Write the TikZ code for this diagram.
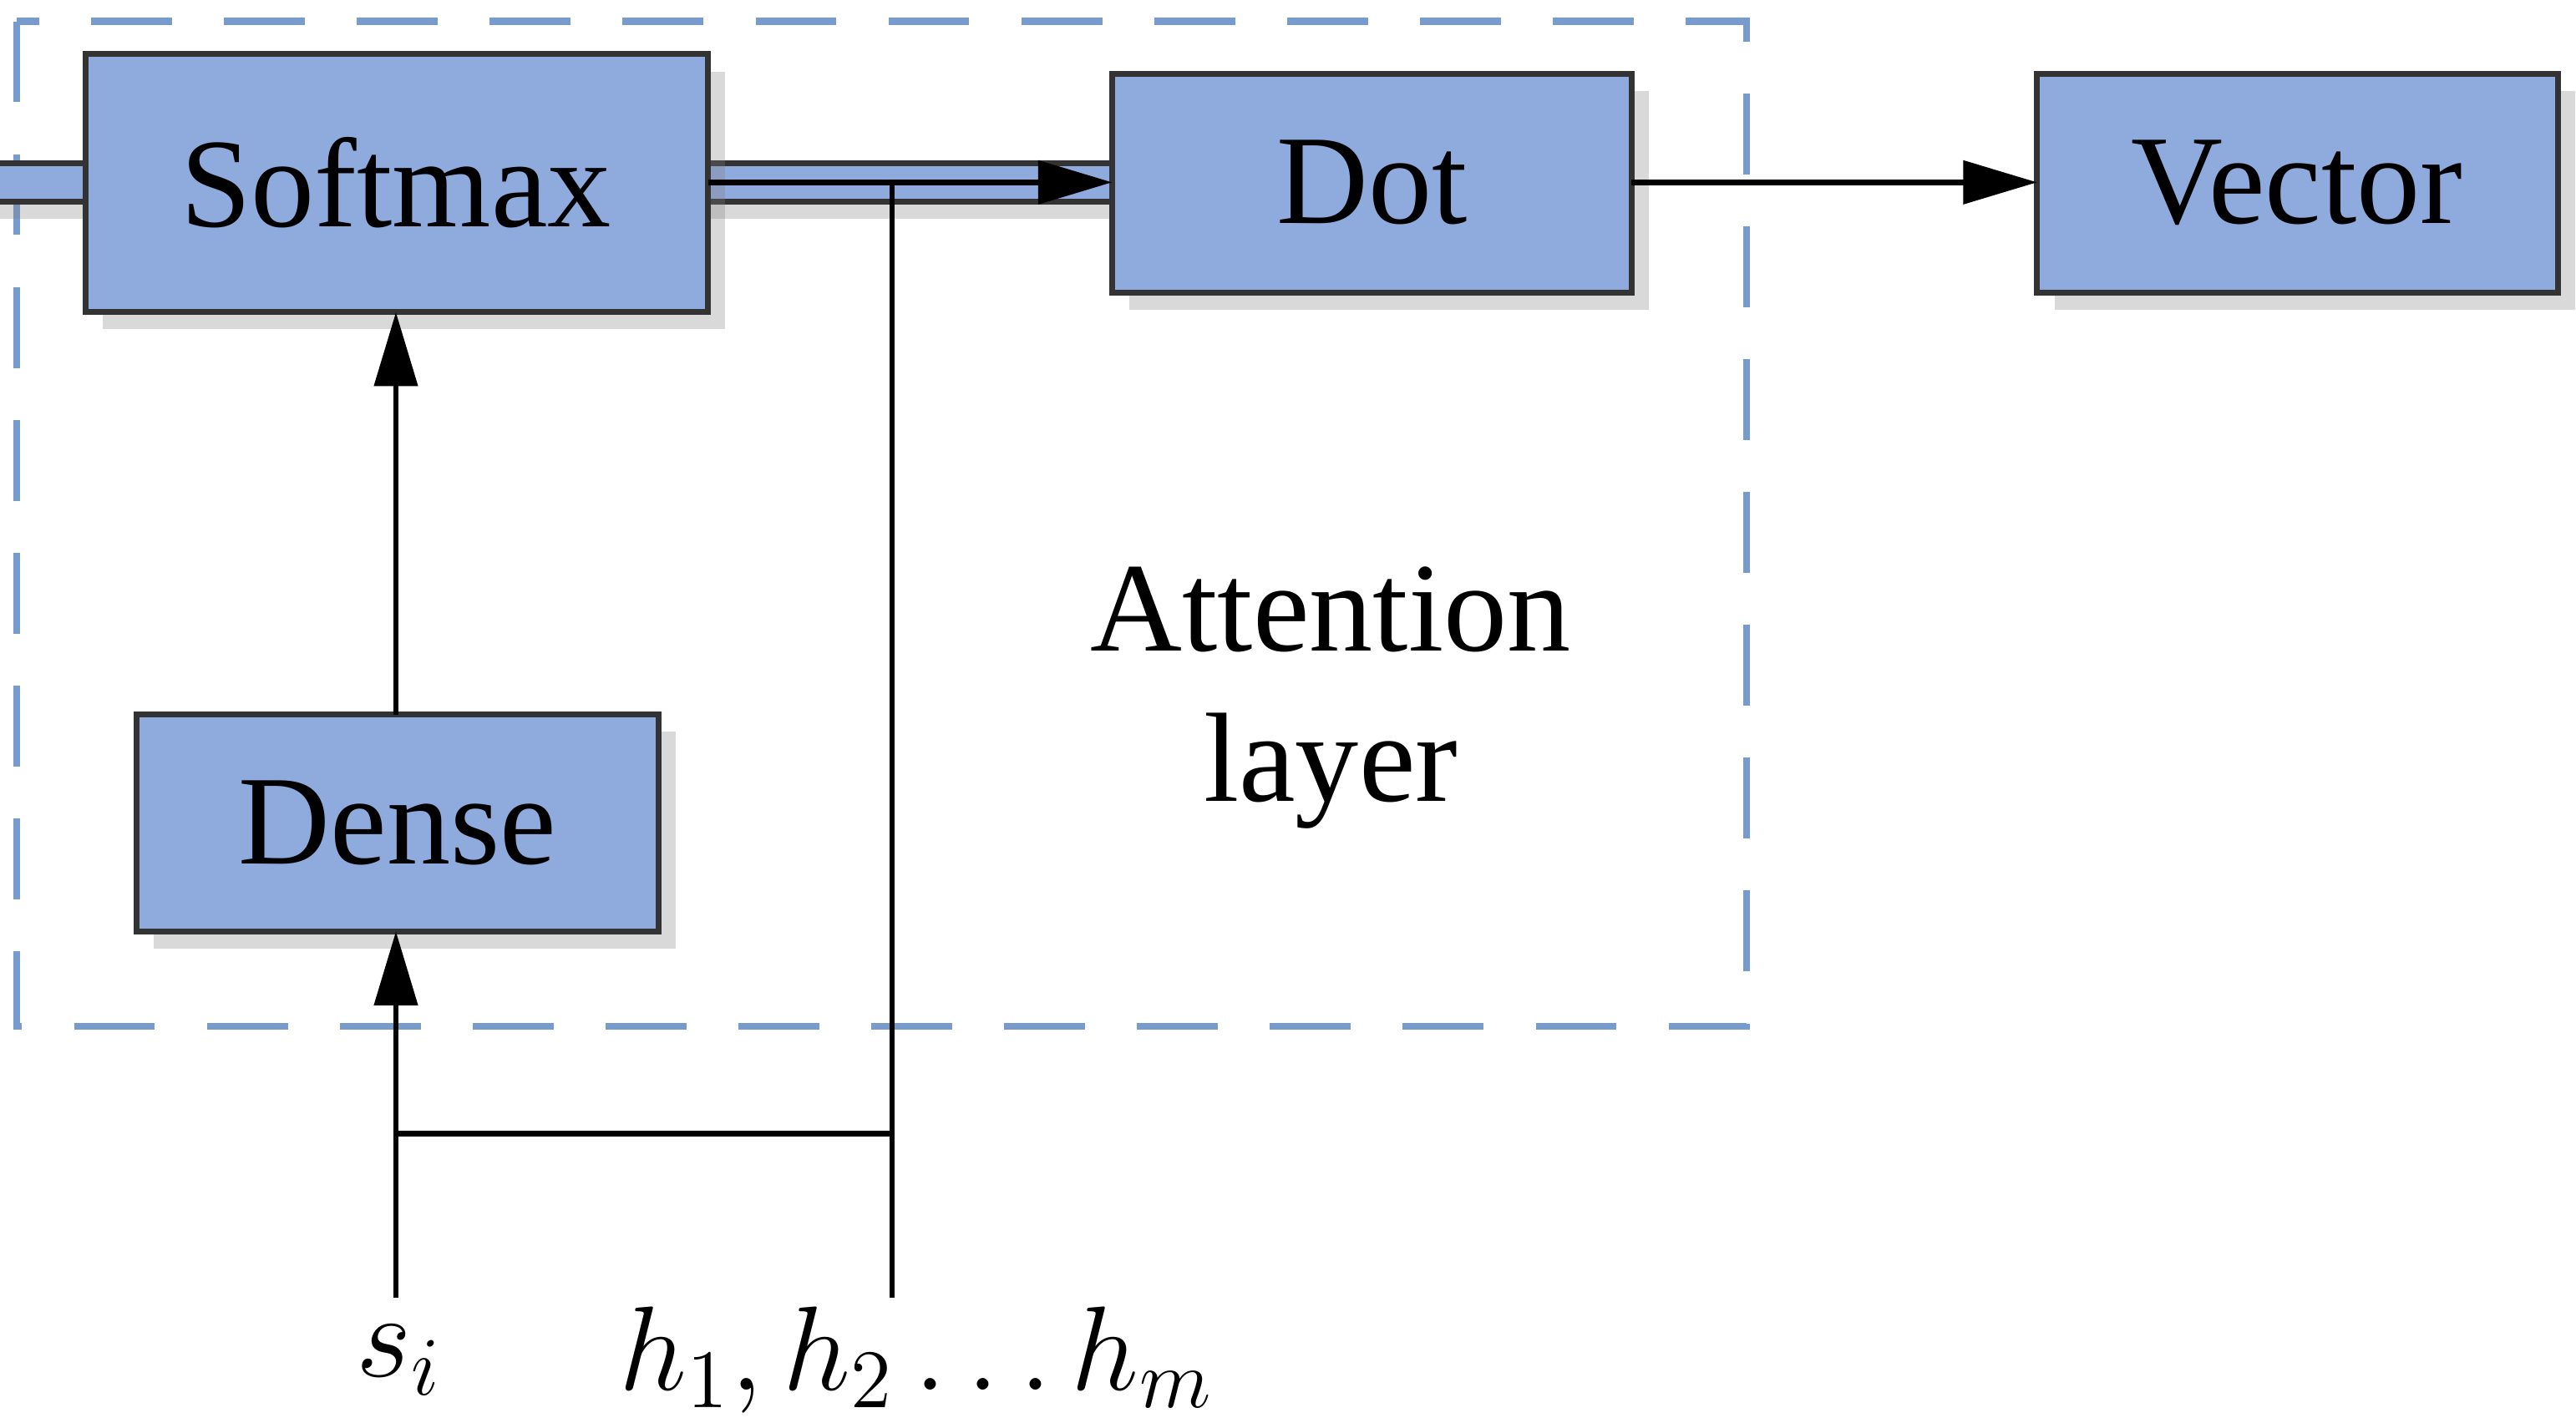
\documentclass[tikz,border=0pt]{standalone}
\usepackage{fontspec}
\setmainfont{Liberation Serif}
\usetikzlibrary{arrows.meta,shadows}
\definecolor{boxfill}{RGB}{143,170,220}
\definecolor{dashc}{RGB}{120,155,205}
\begin{document}
\begin{tikzpicture}[x=0.01cm,y=-0.01cm,
  blk/.style={draw=black!80,line width=1pt,fill=boxfill,drop shadow={shadow xshift=3pt,shadow yshift=-3pt,opacity=0.3},font=\fontsize{22}{26}\selectfont},
  ln/.style={line width=1pt},
  arr/.style={ln,-{Triangle[length=0.45cm,width=0.26cm]}}]
\useasboundingbox (0,0) rectangle (1568,866);
\draw[dashc,line width=1.2pt,dash pattern=on 14pt off 9pt] (10,13) rectangle (1063,625);
\node[blk,minimum width=379\pgflinewidth] (soft) at (241,111) {};
\path[blk] (52,33) rectangle (431,190);
\path[blk] (677,45) rectangle (993,178);
\path[blk] (1240,45) rectangle (1557,178);
\path[blk] (83,435) rectangle (401,567);
\node[font=\fontsize{22}{26}\selectfont] (softmax) at (241,111) {Softmax};
\node[font=\fontsize{22}{26}\selectfont] (dot) at (835,111) {Dot};
\node[font=\fontsize{22}{26}\selectfont] (vector) at (1398,111) {Vector};
\node[font=\fontsize{22}{26}\selectfont] (dense) at (242,501) {Dense};
\node[font=\fontsize{22}{26}\selectfont,align=center] (att) at (810,425) {Attention\\layer};
\coordinate (sr) at (431,111); \coordinate (dl) at (677,111);
\coordinate (dr) at (993,111); \coordinate (vl) at (1240,111);
\coordinate (st) at (241,190); \coordinate (dt) at (241,435);
\coordinate (db) at (241,567); \coordinate (sb) at (241,790);
\coordinate (j1) at (543,111); \coordinate (hb) at (543,790);
\coordinate (m1) at (241,690); \coordinate (m2) at (543,690);
\draw[arr] (sr) -- (dl);
\draw[arr] (dr) -- (vl);
\draw[arr] (dt) -- (st);
\draw[arr] (sb) -- (db);
\draw[ln] (j1) -- (hb);
\draw[ln] (m1) -- (m2);
\node[font=\fontsize{20}{24}\selectfont] (si) at (243,828) {$s_i$};
\node[font=\fontsize{20}{24}\selectfont] (hs) at (558,828) {$h_1,h_2\ldots h_m$};
\end{tikzpicture}
\end{document}
